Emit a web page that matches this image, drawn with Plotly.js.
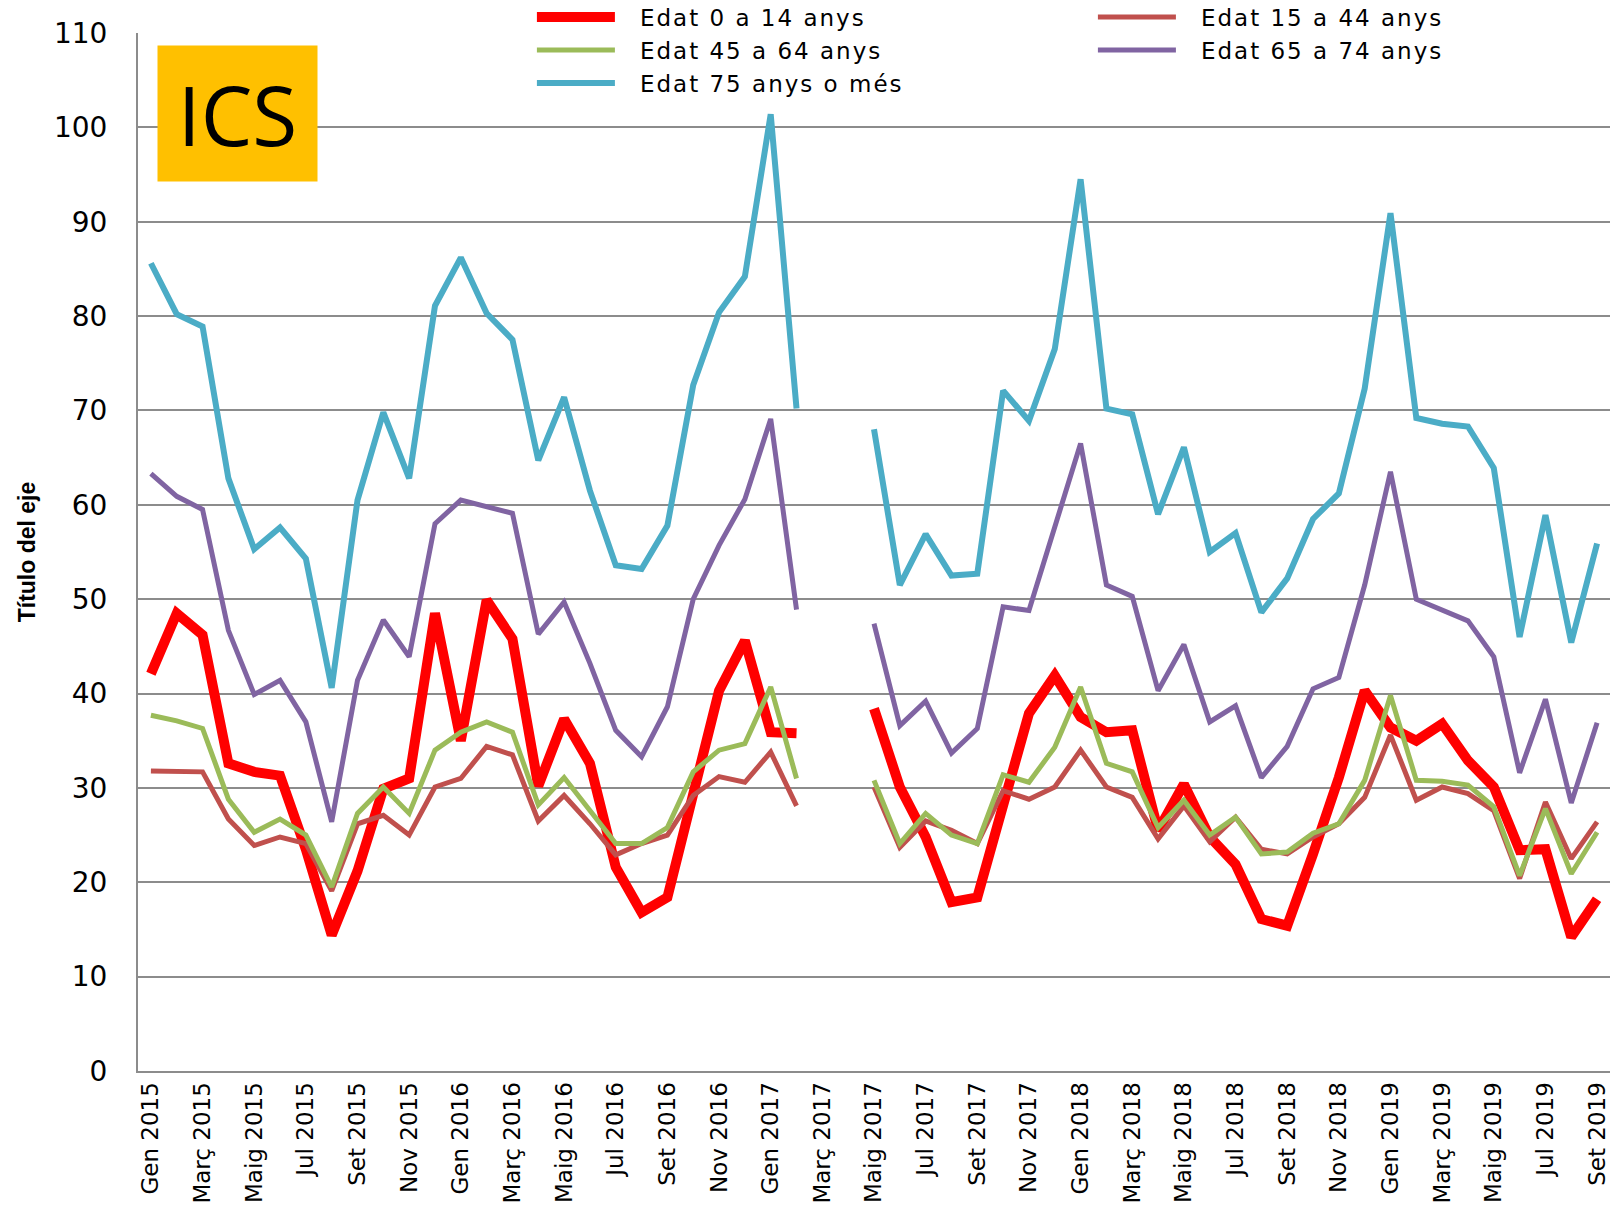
<!DOCTYPE html>
<html>
<head>
<meta charset="utf-8">
<script src="https://cdn.plot.ly/plotly-3.0.1.min.js"></script>
<style>
  html, body { margin: 0; padding: 0; background: #ffffff; }
  #chart { width: 1621px; height: 1210px; }
  #chart .legendtext { letter-spacing: 2px; transform: translateX(20px); }
</style>
</head>
<body>
<div id="chart"></div>
<script>
// ---- Data ----
const months = [
  'Gen 2015','Febr 2015','Març 2015','Abr 2015','Maig 2015','Juny 2015','Jul 2015','Ag 2015','Set 2015','Oct 2015','Nov 2015','Des 2015',
  'Gen 2016','Febr 2016','Març 2016','Abr 2016','Maig 2016','Juny 2016','Jul 2016','Ag 2016','Set 2016','Oct 2016','Nov 2016','Des 2016',
  'Gen 2017','Febr 2017','Març 2017','Abr 2017','Maig 2017','Juny 2017','Jul 2017','Ag 2017','Set 2017','Oct 2017','Nov 2017','Des 2017',
  'Gen 2018','Febr 2018','Març 2018','Abr 2018','Maig 2018','Juny 2018','Jul 2018','Ag 2018','Set 2018','Oct 2018','Nov 2018','Des 2018',
  'Gen 2019','Febr 2019','Març 2019','Abr 2019','Maig 2019','Juny 2019','Jul 2019','Ag 2019','Set 2019'
];

const age0_14 = [42.1, 48.5, 46.2, 32.6, 31.7, 31.3, 23.5, 14.4, 21.2, 29.9,
  31.0, 48.5, 35.0, 49.9, 45.8, 30.2, 37.3, 32.6, 21.6, 16.8,
  18.4, 29.0, 40.3, 45.6, 35.9, 35.8, null, null, 38.4, 30.1,
  24.8, 17.9, 18.4, 28.5, 37.9, 41.9, 37.5, 35.9, 36.1, 25.5,
  30.4, 24.8, 21.9, 16.1, 15.4, 23.0, 31.1, 40.3, 36.4, 35.0,
  36.8, 32.9, 30.1, 23.4, 23.5, 14.2, 18.2];

const age15_44 = [31.8, 31.8, 31.7, 26.7, 23.9, 24.8, 24.1, 19.1, 26.2, 27.1,
  25.0, 30.1, 31.0, 34.4, 33.5, 26.5, 29.2, 26.2, 22.9, 24.1,
  25.0, 29.2, 31.2, 30.6, 33.8, 28.1, null, null, 30.1, 23.7,
  26.5, 25.5, 24.1, 29.7, 28.8, 30.1, 34.0, 30.1, 29.0, 24.6,
  28.1, 24.3, 26.9, 23.5, 23.0, 24.8, 26.2, 29.0, 35.6, 28.7,
  30.1, 29.4, 27.6, 20.4, 28.5, 22.5, 26.4];

const age45_64 = [37.7, 37.1, 36.3, 28.8, 25.3, 26.7, 25.0, 19.5, 27.3, 30.1,
  27.3, 34.0, 35.9, 37.0, 35.9, 28.2, 31.1, 27.6, 24.1, 24.1,
  25.8, 31.7, 34.0, 34.7, 40.7, 31.0, null, null, 30.8, 24.1,
  27.3, 25.0, 24.1, 31.4, 30.6, 34.3, 40.7, 32.6, 31.7, 25.8,
  28.7, 25.0, 26.9, 23.0, 23.2, 25.2, 26.2, 30.8, 39.8, 30.8,
  30.7, 30.3, 28.0, 20.7, 27.8, 20.9, 25.3];

const age65_74 = [63.3, 60.9, 59.5, 46.7, 39.9, 41.4, 37.0, 26.4, 41.4, 47.8,
  43.9, 58.0, 60.5, 59.8, 59.1, 46.3, 49.7, 43.2, 36.1, 33.3,
  38.6, 50.0, 55.7, 60.6, 69.1, 48.9, null, null, 47.4, 36.6,
  39.2, 33.7, 36.3, 49.2, 48.8, 57.5, 66.5, 51.5, 50.3, 40.3,
  45.2, 37.0, 38.7, 31.1, 34.4, 40.5, 41.7, 51.5, 63.5, 50.0,
  48.8, 47.7, 43.9, 31.6, 39.4, 28.4, 36.9];

const age75plus = [85.6, 80.2, 78.9, 62.8, 55.3, 57.6, 54.3, 40.6, 60.5, 69.8,
  62.8, 81.1, 86.2, 80.3, 77.5, 64.7, 71.4, 61.5, 53.6, 53.2,
  57.8, 72.7, 80.4, 84.2, 101.4, 70.2, null, null, 68.0, 51.5,
  56.9, 52.5, 52.7, 72.1, 68.9, 76.5, 94.5, 70.2, 69.6, 59.0,
  66.1, 55.0, 57.0, 48.6, 52.2, 58.5, 61.2, 72.3, 90.9, 69.2,
  68.6, 68.3, 63.9, 46.0, 58.9, 45.4, 55.9];

const seriesNames = ['Edat 0 a 14 anys', 'Edat 15 a 44 anys', 'Edat 45 a 64 anys', 'Edat 65 a 74 anys', 'Edat 75 anys o més'];
const yTitle = 'Título del eje';
const badgeText = 'ICS';

// ---- Styles ----
const colors = ['#FF0000', '#C0504D', '#9BBB59', '#8064A2', '#4BACC6'];
const widths = [10, 5, 5, 5, 6];
const seriesData = [age0_14, age15_44, age45_64, age65_74, age75plus];

const traces = seriesData.map((vals, k) => ({
  type: 'scatter',
  mode: 'lines',
  x: months,
  y: vals,
  name: seriesNames[k],
  connectgaps: false,
  line: { color: colors[k], width: widths[k], shape: 'linear' },
  hoverinfo: 'x+y+name'
}));

const gridColor = '#8C8C8C';

const layout = {
  width: 1621,
  height: 1210,
  paper_bgcolor: '#ffffff',
  plot_bgcolor: '#ffffff',
  margin: { l: 138, r: 11, t: 33, b: 139, autoexpand: false },
  showlegend: true,
  legend: {
    orientation: 'h',
    x: 0.2676,
    xanchor: 'left',
    y: 1.036,
    yanchor: 'top',
    bgcolor: 'rgba(0,0,0,0)',
    borderwidth: 0,
    itemwidth: 78,
    entrywidth: 468,
    entrywidthmode: 'pixels',
    traceorder: 'normal',
    tracegroupgap: 0,
    font: { family: 'DejaVu Sans', size: 23, color: '#000000' }
  },
  xaxis: {
    type: 'category',
    range: [-0.5, 56.5],
    tickmode: 'linear',
    tick0: 0,
    dtick: 2,
    tickangle: -90,
    showgrid: false,
    showline: true,
    linecolor: gridColor,
    linewidth: 2,
    ticks: '',
    tickfont: { family: 'DejaVu Sans', size: 23, color: '#000000' },
    zeroline: false,
    automargin: false,
    fixedrange: true
  },
  yaxis: {
    range: [0, 110],
    tickmode: 'linear',
    tick0: 0,
    dtick: 10,
    showgrid: true,
    gridcolor: gridColor,
    gridwidth: 2,
    showline: true,
    linecolor: gridColor,
    linewidth: 2,
    zeroline: false,
    ticks: '',
    ticklabelstandoff: 23,
    tickfont: { family: 'DejaVu Sans', size: 28, color: '#000000' },
    title: {
      text: yTitle,
      standoff: 12,
      font: { family: 'Liberation Sans', size: 23, color: '#000000', weight: 'bold' }
    },
    automargin: false,
    fixedrange: true
  },
  annotations: [{
    text: badgeText,
    xref: 'paper', yref: 'paper',
    x: 0.0674, y: 0.9222,
    xanchor: 'center', yanchor: 'middle',
    showarrow: false,
    bgcolor: '#FFC000',
    width: 157, height: 133,
    borderpad: 1,
    font: { family: 'Open Sans', size: 82, color: '#000000' }
  }]
};

Plotly.newPlot('chart', traces, layout, { displayModeBar: false, staticPlot: true });
</script>
</body>
</html>
